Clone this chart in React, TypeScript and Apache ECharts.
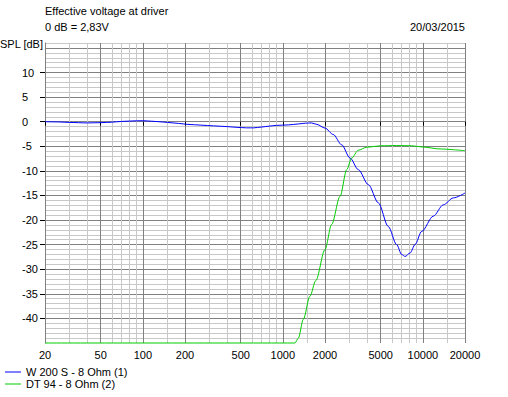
import React, { useEffect, useRef } from 'react';
import * as echarts from 'echarts';

// W 200 S - 8 Ohm (1): frequency [Hz] / SPL [dB]
const woofFreq = [20, 25, 30, 40, 50, 60, 70, 85, 100, 115, 130, 150, 180, 210, 260, 320, 400, 470, 550, 620, 700, 800, 900, 1100, 1300, 1450, 1600, 1750, 2000, 2290, 2630, 3020, 3460, 4080, 4810, 5660, 6500, 7060, 7460, 8100, 8790, 9810, 11880, 14000, 16500, 20000];
const woofSpl = [0, -0.05, -0.15, -0.25, -0.2, -0.1, 0.05, 0.15, 0.2, 0.1, 0, -0.15, -0.35, -0.55, -0.7, -0.85, -1.0, -1.15, -1.25, -1.25, -1.1, -0.9, -0.75, -0.65, -0.45, -0.3, -0.25, -0.55, -1.3, -2.6, -4.7, -7.4, -9.75, -12.8, -16.5, -21.3, -25, -27, -27.4, -26.7, -25, -22.3, -19.2, -16.9, -15.5, -14.5];

// DT 94 - 8 Ohm (2)
const tweetFreq = [20, 1220, 1290, 1400, 1560, 1720, 2000, 2230, 2560, 2860, 3100, 3460, 3970, 5000, 6500, 8300, 10000, 13250, 20000];
const tweetSpl = [-45, -45, -44, -40.2, -35.5, -32.3, -26, -20.9, -15.2, -9.75, -7.4, -5.8, -5.2, -4.9, -4.85, -4.9, -5.15, -5.55, -5.9];

const seriesNames = ['W 200 S - 8 Ohm (1)', 'DT 94 - 8 Ohm (2)'];

// axis ticks
const majorFreqs = [20, 50, 100, 200, 500, 1000, 2000, 5000, 10000, 20000];
const minorFreqs = [30, 40, 60, 70, 80, 90, 150, 300, 400, 600, 700, 800, 900, 1500, 3000, 4000, 6000, 7000, 8000, 9000, 15000];
const dbLabels = [-40, -35, -30, -25, -20, -15, -10, -5, 0, 5, 10];
const dbMajorLines = [-40, -35, -30, -25, -20, -15, -10, -5, 0, 5, 10, 15];
const dbMin = -45;
const dbMax = 16;
const fMin = 20;
const fMax = 20000;

const FONT = '"Liberation Sans", Arial, sans-serif';
const DARK = '#808080';
const LIGHT = '#c8c8c8';

export default function App() {
  const ref = useRef<HTMLDivElement>(null);
  useEffect(() => {
    if (!ref.current) return;
    const chart = echarts.init(ref.current, undefined, { renderer: 'svg' });
    const lg = (v: number) => Math.log10(v);
    const dbMinor: number[] = [];
    for (let v = dbMin + 1; v <= dbMax; v++) if (v % 5 !== 0) dbMinor.push(v);

    const xBase = { type: 'value', min: lg(fMin), max: lg(fMax), gridIndex: 0 };
    const yBase = { type: 'value', min: dbMin, max: dbMax, gridIndex: 0 };

    chart.setOption({
      animation: false,
      backgroundColor: '#ffffff',
      textStyle: { fontFamily: FONT, fontSize: 11, color: '#000' },
      grid: { left: 45, width: 420, top: 43, height: 300 },
      xAxis: [
        {
          ...xBase,
          position: 'bottom',
          axisLine: { show: false },
          axisTick: { show: true, length: 4, customValues: majorFreqs.map(lg), lineStyle: { color: '#000' } },
          axisLabel: {
            show: true, customValues: majorFreqs.map(lg), margin: 6,
            fontFamily: FONT, fontSize: 11, color: '#000',
            formatter: (v: number) => String(Math.round(Math.pow(10, v))),
          },
          splitLine: { show: false },
        },
        {
          ...xBase,
          position: 'bottom',
          axisLine: { show: false },
          axisTick: { show: false, customValues: minorFreqs.map(lg) },
          axisLabel: { show: false },
          splitLine: { show: true, lineStyle: { color: LIGHT, width: 1 } },
        },
        {
          ...xBase,
          position: 'bottom',
          axisLine: { show: false },
          axisTick: { show: false, customValues: majorFreqs.map(lg) },
          axisLabel: { show: false },
          splitLine: { show: true, lineStyle: { color: DARK, width: 1 } },
        },
      ],
      yAxis: [
        {
          ...yBase,
          position: 'left',
          axisLine: { show: true, lineStyle: { color: DARK } },
          axisTick: { show: true, length: 5, customValues: dbLabels, lineStyle: { color: '#000' } },
          axisLabel: {
            show: true, customValues: dbLabels, align: 'left', margin: 23,
            fontFamily: FONT, fontSize: 11, color: '#000',
          },
          splitLine: { show: false },
        },
        {
          ...yBase,
          position: 'left',
          axisLine: { show: false },
          axisTick: { show: false, customValues: dbMinor },
          axisLabel: { show: false },
          splitLine: { show: true, lineStyle: { color: LIGHT, width: 1 } },
        },
        {
          ...yBase,
          position: 'left',
          axisLine: { show: false },
          axisTick: { show: false, customValues: dbMajorLines },
          axisLabel: { show: false },
          splitLine: { show: true, lineStyle: { color: DARK, width: 1 } },
        },
      ],
      legend: {
        orient: 'vertical',
        left: 5,
        top: 366,
        padding: 0,
        itemGap: 0,
        itemWidth: 16,
        itemHeight: 1,
        icon: 'rect',
        data: seriesNames,
        textStyle: { fontFamily: FONT, fontSize: 11, color: '#000', lineHeight: 12 },
      },
      graphic: [
        { type: 'text', x: 45, y: 11, style: { text: 'Effective voltage at driver', font: `11px ${FONT}`, fill: '#000', align: 'left', verticalAlign: 'middle' } },
        { type: 'text', x: 45, y: 27, style: { text: '0 dB = 2,83V', font: `11px ${FONT}`, fill: '#000', align: 'left', verticalAlign: 'middle' } },
        { type: 'text', x: 465, y: 27, style: { text: '20/03/2015', font: `11px ${FONT}`, fill: '#000', align: 'right', verticalAlign: 'middle' } },
        { type: 'text', x: 0, y: 44, style: { text: 'SPL [dB]', font: `11px ${FONT}`, fill: '#000', align: 'left', verticalAlign: 'middle' } },
      ],
      series: [
        {
          name: seriesNames[0],
          type: 'line',
          xAxisIndex: 0,
          yAxisIndex: 0,
          showSymbol: false,
          clip: false,
          smooth: 0.3,
          smoothMonotone: 'x',
          color: '#0000ff',
          lineStyle: { color: '#0000ff', width: 1 },
          data: woofFreq.map((f, i) => [lg(f), woofSpl[i]]),
          z: 3,
        },
        {
          name: seriesNames[1],
          type: 'line',
          xAxisIndex: 0,
          yAxisIndex: 0,
          showSymbol: false,
          clip: false,
          smooth: 0.3,
          smoothMonotone: 'x',
          color: '#00cc00',
          lineStyle: { color: '#00cc00', width: 1 },
          data: tweetFreq.map((f, i) => [lg(f), tweetSpl[i]]),
          z: 3,
        },
      ],
    });
    return () => chart.dispose();
  }, []);
  return (
    <div
      ref={ref}
      style={{ position: 'fixed', left: 0, top: 0, width: 508, height: 397, background: '#fff' }}
    />
  );
}
